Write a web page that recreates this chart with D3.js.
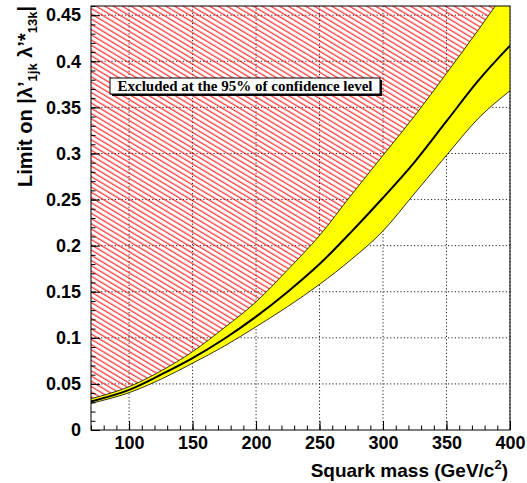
<!DOCTYPE html>
<html>
<head>
<meta charset="utf-8">
<script src="https://cdn.jsdelivr.net/npm/d3@7"></script>
<style>
  body { margin: 0; background: #fff; }
  svg { display: block; }
  .axis text { font-family: "Liberation Sans", Arial, sans-serif; font-weight: bold; font-size: 18px; fill: #000; }
  .axis line { stroke: #000; }
  .axis path { display: none; }
  .grid line { stroke: #222; stroke-dasharray: 1.2,2.2; }
</style>
</head>
<body>
<div id="chart"></div>
<script>
// squark mass points and the limit curves
var mass = [70, 100, 125, 150, 175, 200, 225, 250, 275, 300, 325, 350, 375, 400];
var limitUpper = [0.034, 0.047, 0.064, 0.085, 0.111, 0.139, 0.174, 0.211, 0.255, 0.298, 0.341, 0.387, 0.434, 0.483];
var limitCentral = [0.031, 0.0435, 0.060, 0.078, 0.099, 0.123, 0.150, 0.180, 0.215, 0.252, 0.291, 0.335, 0.379, 0.417];
var limitLower = [0.029, 0.0405, 0.055, 0.0725, 0.091, 0.112, 0.134, 0.158, 0.185, 0.216, 0.257, 0.298, 0.338, 0.368];

var xTicks = [100, 150, 200, 250, 300, 350, 400];
var xMinorTicks = d3.range(70, 401, 10);
var yTicks = [0, 0.05, 0.1, 0.15, 0.2, 0.25, 0.3, 0.35, 0.4, 0.45];
var yMinorTicks = d3.range(0, 0.461, 0.01);

var legendText = 'Excluded at the 95% of confidence level';

// set the dimensions
var W = 527, H = 483;
var margin = { top: 6, right: 17, bottom: 53, left: 91 };
var width = W - margin.left - margin.right;
var height = H - margin.top - margin.bottom;

var x = d3.scaleLinear().domain([70, 400]).range([0, width]);
var y = d3.scaleLinear().domain([0, 0.46]).range([height, 0]);

var data = mass.map(function (m, i) {
  return { m: m, up: limitUpper[i], mid: limitCentral[i], lo: limitLower[i] };
});

var svgRoot = d3.select('#chart').append('svg')
  .attr('width', W)
  .attr('height', H);

var defs = svgRoot.append('defs');

defs.append('clipPath')
  .attr('id', 'plotClip')
  .append('rect')
  .attr('width', width)
  .attr('height', height);

// red hatch pattern
var hatch = defs.append('pattern')
  .attr('id', 'hatch')
  .attr('patternUnits', 'userSpaceOnUse')
  .attr('width', 10)
  .attr('height', 4.5)
  .attr('patternTransform', 'rotate(31)');
hatch.append('line')
  .attr('x1', 0).attr('x2', 10)
  .attr('y1', 2).attr('y2', 2)
  .style('stroke', '#ff0000')
  .style('stroke-width', 1);

var svg = svgRoot.append('g')
  .attr('transform', 'translate(' + margin.left + ',' + margin.top + ')');

// grid
svg.append('g')
  .attr('class', 'grid')
  .selectAll('line')
  .data(xTicks)
  .enter().append('line')
  .attr('x1', function (d) { return x(d); })
  .attr('x2', function (d) { return x(d); })
  .attr('y1', 0)
  .attr('y2', height);

svg.append('g')
  .attr('class', 'grid')
  .selectAll('line')
  .data(yTicks.slice(1))
  .enter().append('line')
  .attr('x1', 0)
  .attr('x2', width)
  .attr('y1', function (d) { return y(d); })
  .attr('y2', function (d) { return y(d); });

var plot = svg.append('g').attr('clip-path', 'url(#plotClip)');

// excluded region
var excluded = d3.area()
  .curve(d3.curveMonotoneX)
  .x(function (d) { return x(d.m); })
  .y0(function (d) { return y(d.up); })
  .y1(function () { return -10; });

plot.append('path')
  .datum(data)
  .attr('d', excluded)
  .style('fill', 'url(#hatch)');

// yellow band
var band = d3.area()
  .curve(d3.curveMonotoneX)
  .x(function (d) { return x(d.m); })
  .y0(function (d) { return y(d.lo); })
  .y1(function (d) { return y(d.up); });

plot.append('path')
  .datum(data)
  .attr('d', band)
  .style('fill', '#ffff00');

var lineUp = d3.line().curve(d3.curveMonotoneX)
  .x(function (d) { return x(d.m); })
  .y(function (d) { return y(d.up); });
var lineMid = d3.line().curve(d3.curveMonotoneX)
  .x(function (d) { return x(d.m); })
  .y(function (d) { return y(d.mid); });
var lineLo = d3.line().curve(d3.curveMonotoneX)
  .x(function (d) { return x(d.m); })
  .y(function (d) { return y(d.lo); });

plot.append('path').datum(data).attr('d', lineUp)
  .style('fill', 'none').style('stroke', '#000').style('stroke-width', 0.8);
plot.append('path').datum(data).attr('d', lineLo)
  .style('fill', 'none').style('stroke', '#000').style('stroke-width', 0.8);
plot.append('path').datum(data).attr('d', lineMid)
  .style('fill', 'none').style('stroke', '#000').style('stroke-width', 2);

// legend box
var lx = 19, ly = 72, lw = 270, lh = 16;
svg.append('rect')
  .attr('x', lx + 2).attr('y', ly + 2)
  .attr('width', lw).attr('height', lh)
  .style('fill', '#000');
svg.append('rect')
  .attr('x', lx).attr('y', ly)
  .attr('width', lw).attr('height', lh)
  .style('fill', '#fff')
  .style('stroke', '#000')
  .style('stroke-width', 1);
svg.append('text')
  .attr('x', lx + lw / 2)
  .attr('y', ly + 13)
  .attr('text-anchor', 'middle')
  .attr('textLength', 255)
  .attr('lengthAdjust', 'spacingAndGlyphs')
  .style('font-family', '"Liberation Serif", "Times New Roman", serif')
  .style('font-weight', 'bold')
  .style('font-size', '14px')
  .text(legendText);

// frame
svg.append('rect')
  .attr('width', width)
  .attr('height', height)
  .style('fill', 'none')
  .style('stroke', '#000')
  .style('stroke-width', 1);

// x axis
svg.append('g')
  .attr('class', 'axis')
  .attr('transform', 'translate(0,' + height + ')')
  .call(d3.axisBottom(x).tickValues(xMinorTicks).tickSize(-4.5).tickSizeOuter(0).tickFormat(''));
svg.append('g')
  .attr('class', 'axis')
  .attr('transform', 'translate(0,' + height + ')')
  .call(d3.axisBottom(x).tickValues(xTicks).tickSize(-9).tickSizeOuter(0).tickPadding(6).tickFormat(d3.format('d')));

// y axis
svg.append('g')
  .attr('class', 'axis')
  .call(d3.axisLeft(y).tickValues(yMinorTicks).tickSize(-4.5).tickSizeOuter(0).tickFormat(''));
svg.append('g')
  .attr('class', 'axis')
  .call(d3.axisLeft(y).tickValues(yTicks).tickSize(-9).tickSizeOuter(0).tickPadding(10)
    .tickFormat(function (d) { return d === 0 ? '0' : String(+d.toFixed(2)); }));

// x axis title
var xt = svgRoot.append('text')
  .attr('x', 508)
  .attr('y', 477)
  .attr('text-anchor', 'end')
  .style('font-family', '"Liberation Sans", Arial, sans-serif')
  .style('font-weight', 'bold')
  .style('font-size', '19px');
xt.append('tspan').text('Squark mass (GeV/c');
xt.append('tspan').attr('dy', -8).style('font-size', '13px').text('2');
xt.append('tspan').attr('dy', 8).text(')');

// y axis title
var yt = svgRoot.append('text')
  .attr('transform', 'translate(32,6) rotate(-90)')
  .attr('text-anchor', 'end')
  .style('font-family', '"Liberation Sans", Arial, sans-serif')
  .style('font-weight', 'bold')
  .style('font-size', '20px');
yt.append('tspan').text('Limit on  |λ\u2019');
yt.append('tspan').attr('dy', 5).style('font-size', '13px').text('1jk');
yt.append('tspan').attr('dy', -5).text(' λ\u2019*');
yt.append('tspan').attr('dy', 5).style('font-size', '13px').text('13k');
yt.append('tspan').attr('dy', -5).text('|');
</script>
</body>
</html>
